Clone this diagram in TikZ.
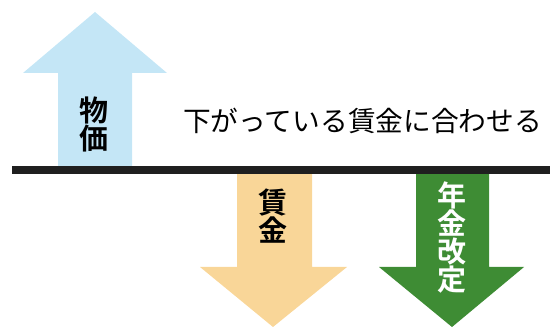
\documentclass[tikz,border=0pt]{standalone}
\usepackage{fontspec}
\newfontfamily\jp{Noto Sans CJK JP}
\newfontfamily\jpb{Noto Sans CJK JP Bold}
\definecolor{upblue}{RGB}{196,230,246}
\definecolor{beige}{RGB}{249,214,152}
\definecolor{dgreen}{RGB}{62,140,52}
\begin{document}
\begin{tikzpicture}[x=1pt,y=-1pt,
  lbl/.style={font=\jpb\fontsize{29}{28}\selectfont, align=center, inner sep=0pt},
  bar/.style={fill=black!88}]
\useasboundingbox (0,0) rectangle (552,328);
% blue up arrow
\fill[upblue] (58,170) -- (58,73) -- (23,73) -- (95,12) -- (167,73) -- (132,73) -- (132,170) -- cycle;
% beige down arrow
\fill[beige] (237,170) -- (237,267) -- (200,267) -- (273,327) -- (347,267) -- (312,267) -- (312,170) -- cycle;
% green down arrow
\fill[dgreen] (416,170) -- (416,267) -- (379,267) -- (452,327) -- (524,267) -- (489,267) -- (489,170) -- cycle;
% black bar
\fill[bar] (12,166) rectangle (550,174);
\node[lbl] (bukka) at (94,124) {物\\価};
\node[lbl] (chingin) at (273,216) {賃\\金};
\node[lbl, text=white] (nenkin) at (452,238) {年\\金\\改\\定};
\node[font=\jp\fontsize{27.7}{29}\selectfont, anchor=west, inner sep=0pt] (msg) at (183,121) {下がっている賃金に合わせる};
\end{tikzpicture}
\end{document}
